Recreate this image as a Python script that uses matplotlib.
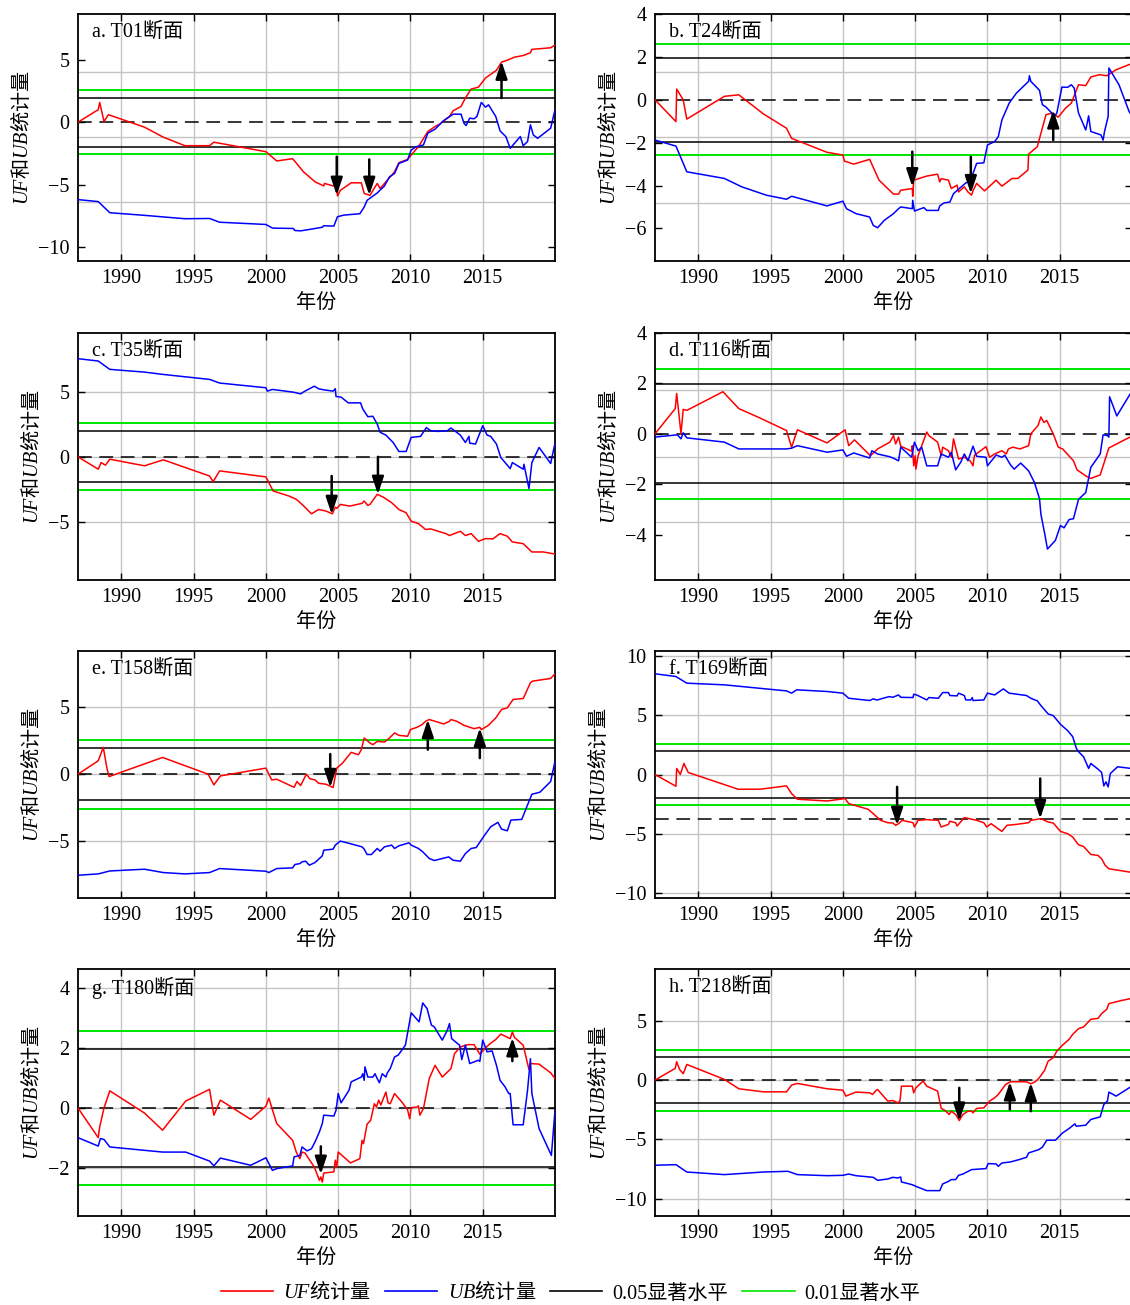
import matplotlib

matplotlib.use("Agg")
import matplotlib.pyplot as plt  # noqa: E402
from matplotlib.lines import Line2D  # noqa: E402

plt.rcParams["font.family"] = ["Liberation Serif", "Noto Sans CJK SC"]
plt.rcParams["mathtext.fontset"] = "custom"
plt.rcParams["mathtext.it"] = "Liberation Serif:italic"
plt.rcParams["mathtext.rm"] = "Noto Sans CJK SC"
plt.rcParams["axes.unicode_minus"] = True

# ---- data: (year, statistic) ----
a_uf = [(1987.0, 0.0), (1988.4, 1.0), (1988.5, 1.58), (1988.8, 0.05), (1989.1, 0.6), (1991.6, -0.4),
        (1992.9, -1.2), (1994.4, -1.88), (1996.1, -1.88), (1996.4, -1.6), (2000.0, -2.36), (2000.75, -3.1),
        (2001.85, -2.92), (2002.6, -3.97), (2003.4, -4.77), (2004.0, -5.1), (2004.05, -4.9), (2004.9, -5.17),
        (2004.95, -5.9), (2005.15, -5.45), (2005.9, -4.85), (2006.6, -4.85), (2006.8, -5.7), (2007.2, -5.85),
        (2007.7, -4.9), (2007.9, -5.3), (2008.3, -4.77), (2008.9, -3.97), (2009.2, -3.24), (2009.8, -2.98),
        (2010.05, -2.63), (2010.55, -1.96), (2011.2, -0.75), (2011.7, -0.35), (2012.05, -0.13), (2012.7, 0.46),
        (2012.95, 0.91), (2013.5, 1.26), (2013.8, 1.93), (2014.2, 2.65), (2014.7, 2.8), (2015.2, 3.54),
        (2015.95, 4.15), (2016.3, 4.8), (2016.7, 4.96), (2017.2, 5.2), (2017.8, 5.33), (2018.3, 5.55),
        (2018.4, 5.82), (2019.7, 5.95), (2020.0, 6.17)]
a_ub = [(1987.0, -6.19), (1988.4, -6.35), (1989.2, -7.24), (1991.6, -7.45), (1994.4, -7.72), (1996.1, -7.7),
        (1996.8, -8.0), (2000.0, -8.18), (2000.45, -8.47), (2001.9, -8.5), (2002.0, -8.66), (2002.4, -8.69),
        (2003.15, -8.55), (2003.9, -8.4), (2004.0, -8.28), (2004.7, -8.31), (2004.95, -7.56), (2005.4, -7.43),
        (2006.5, -7.32), (2006.8, -6.78), (2007.0, -6.25), (2007.7, -5.66), (2008.2, -5.1), (2008.55, -4.37),
        (2008.9, -4.1), (2009.2, -3.3), (2009.8, -3.03), (2010.05, -2.23), (2010.4, -1.96), (2010.9, -1.82),
        (2011.2, -0.88), (2011.7, -0.56), (2012.3, 0.13), (2012.95, 0.64), (2013.5, 0.64), (2013.7, -0.08),
        (2013.85, -0.27), (2014.1, 0.32), (2014.4, 0.27), (2014.6, 0.46), (2014.9, 1.58), (2015.2, 1.2),
        (2015.4, 1.39), (2015.9, 0.46), (2016.2, -0.7), (2016.6, -1.15), (2016.9, -2.09), (2017.6, -1.15),
        (2017.8, -1.88), (2018.1, -1.55), (2018.3, -0.21), (2018.5, -1.02), (2018.8, -1.29), (2019.7, -0.48),
        (2020.0, 0.99)]
a_arrows = [(2004.9, -2.76, -5.85), (2007.15, -2.98, -5.85), (2016.3, 1.93, 4.88)]

b_uf = [(1987.0, 0.0), (1988.45, -1.02), (1988.5, 0.5), (1988.95, 0.0), (1989.2, -0.9), (1991.8, 0.16),
        (1992.8, 0.23), (1994.5, -0.66), (1996.1, -1.33), (1996.45, -1.8), (1998.9, -2.45), (2000.0, -2.58),
        (2000.1, -2.86), (2000.75, -3.0), (2001.85, -2.78), (2002.5, -3.75), (2003.5, -4.4), (2003.85, -4.4),
        (2004.0, -4.22), (2004.8, -4.14), (2004.83, -4.5), (2004.9, -3.75), (2005.8, -3.56), (2006.55, -3.47),
        (2006.7, -3.83), (2006.8, -3.68), (2007.3, -3.75), (2007.5, -4.14), (2007.9, -3.98), (2008.0, -4.3),
        (2008.4, -4.06), (2008.65, -4.3), (2008.9, -4.45), (2009.0, -4.25), (2009.25, -3.9), (2009.8, -4.25),
        (2010.6, -3.75), (2011.0, -4.03), (2011.7, -3.67), (2012.1, -3.67), (2012.8, -3.28), (2012.85, -2.53),
        (2013.45, -2.19), (2013.7, -1.56), (2014.05, -0.7), (2014.45, -0.62), (2014.9, -0.81), (2015.4, -0.39),
        (2015.8, -0.16), (2016.3, 0.7), (2016.8, 0.66), (2017.15, 1.06), (2017.75, 1.17), (2018.25, 1.12),
        (2018.9, 1.4), (2019.8, 1.64), (2020.0, 1.67)]
b_ub = [(1987.0, -1.88), (1988.45, -2.16), (1989.2, -3.36), (1991.8, -3.67), (1993.0, -4.06), (1994.7, -4.45),
        (1996.1, -4.64), (1996.45, -4.5), (1998.9, -4.95), (2000.0, -4.73), (2000.25, -5.08), (2000.9, -5.31),
        (2001.85, -5.47), (2002.1, -5.86), (2002.4, -5.97), (2002.85, -5.63), (2003.5, -5.31), (2003.85, -5.08),
        (2004.0, -5.0), (2004.8, -5.08), (2004.83, -4.69), (2004.95, -5.19), (2005.6, -5.03), (2005.8, -5.16),
        (2006.6, -5.16), (2006.7, -4.95), (2007.0, -4.81), (2007.4, -4.77), (2007.65, -4.38), (2008.5, -3.88),
        (2008.9, -3.75), (2009.0, -3.44), (2009.25, -2.97), (2009.75, -2.94), (2010.0, -2.11), (2010.5, -1.95),
        (2010.75, -1.72), (2011.0, -0.94), (2011.5, -0.16), (2012.0, 0.31), (2012.85, 0.86), (2012.9, 1.12),
        (2013.0, 0.86), (2013.6, 0.44), (2013.8, -0.23), (2014.05, -0.34), (2014.45, -0.62), (2014.55, -0.86),
        (2014.8, -0.62), (2015.15, 0.59), (2015.55, 0.58), (2015.8, 0.7), (2016.0, 0.55), (2016.3, -0.62),
        (2016.8, -1.41), (2016.9, -1.09), (2017.0, -0.75), (2017.15, -1.48), (2017.85, -1.64), (2018.0, -1.88),
        (2018.1, -1.48), (2018.35, -0.78), (2018.4, 1.48), (2019.1, 0.7), (2019.8, -0.55), (2020.0, -0.75)]
b_arrows = [(2004.8, -2.42, -4.06), (2008.85, -2.66, -4.38), (2014.55, -1.88, -0.47)]

c_uf = [(1987.0, 0.0), (1988.4, -0.95), (1988.6, -0.44), (1988.9, -0.64), (1989.2, -0.18), (1991.6, -0.69),
        (1992.9, -0.23), (1996.1, -1.47), (1996.35, -1.9), (1996.8, -1.08), (2000.0, -1.54), (2000.5, -2.62),
        (2001.6, -3.01), (2002.1, -3.26), (2002.55, -3.7), (2003.15, -4.37), (2003.65, -4.04), (2004.15, -4.16),
        (2004.6, -4.37), (2004.8, -3.86), (2004.9, -3.96), (2005.15, -3.65), (2005.8, -3.78), (2006.65, -3.57),
        (2006.8, -3.39), (2007.05, -3.73), (2007.2, -3.65), (2007.7, -2.88), (2008.1, -3.08), (2008.7, -3.52),
        (2009.2, -4.04), (2009.7, -4.29), (2010.05, -4.94), (2010.55, -5.12), (2011.05, -5.58), (2011.4, -5.53),
        (2012.45, -5.89), (2012.7, -6.04), (2013.45, -5.71), (2013.8, -6.04), (2014.2, -5.89), (2014.7, -6.48),
        (2015.2, -6.27), (2015.7, -6.3), (2016.2, -5.89), (2016.7, -6.09), (2017.05, -6.53), (2017.8, -6.66),
        (2018.4, -7.3), (2019.2, -7.3), (2020.0, -7.46)]
c_ub = [(1987.0, 7.53), (1988.4, 7.35), (1989.2, 6.71), (1991.6, 6.5), (1992.9, 6.32), (1996.1, 5.94),
        (1996.8, 5.66), (2000.0, 5.3), (2000.1, 5.04), (2000.45, 5.17), (2001.9, 4.96), (2002.4, 4.83),
        (2002.65, 5.01), (2003.35, 5.42), (2003.65, 5.22), (2004.0, 5.14), (2004.65, 5.04), (2004.8, 5.22),
        (2004.85, 4.63), (2005.2, 4.58), (2005.7, 4.14), (2006.55, 4.14), (2006.7, 3.68), (2007.05, 3.08),
        (2007.4, 3.11), (2007.7, 2.52), (2007.9, 1.88), (2008.3, 1.67), (2008.8, 1.1), (2009.2, 0.41),
        (2009.7, 0.41), (2010.05, 1.49), (2010.7, 1.57), (2011.1, 2.24), (2011.4, 2.0), (2011.9, 1.95),
        (2012.55, 2.0), (2012.8, 2.21), (2013.45, 1.67), (2013.8, 1.1), (2014.05, 1.57), (2014.1, 1.05),
        (2014.5, 0.98), (2015.0, 2.39), (2015.3, 1.67), (2015.55, 1.57), (2015.95, 0.98), (2016.25, -0.05),
        (2016.9, -0.9), (2017.05, -0.44), (2017.8, -0.95), (2017.85, -0.57), (2018.2, -2.44), (2018.4, -0.44),
        (2018.9, 0.72), (2019.7, -0.51), (2020.0, 1.05)]
c_arrows = [(2004.55, -1.47, -4.42), (2007.75, 0.0, -2.88)]

d_uf = [(1987.0, 0.0), (1988.4, 1.0), (1988.5, 1.6), (1988.8, 0.0), (1988.95, 0.97), (1989.2, 0.93),
        (1991.7, 1.67), (1992.8, 1.0), (1994.25, 0.63), (1996.1, 0.13), (1996.45, -0.53), (1996.85, 0.16),
        (1998.9, -0.36), (2000.15, 0.16), (2000.4, -0.47), (2000.8, -0.24), (2001.9, -0.87), (2002.4, -0.6),
        (2003.25, -0.33), (2003.5, -0.07), (2003.65, -0.4), (2003.85, -0.13), (2004.0, -0.49), (2004.75, -0.69),
        (2004.8, -0.47), (2004.9, -1.27), (2005.0, -0.87), (2005.05, -1.4), (2005.2, -0.87), (2005.8, 0.07),
        (2005.95, -0.07), (2006.55, -0.33), (2006.8, -0.87), (2006.9, -0.53), (2007.3, -0.67), (2007.5, -0.93),
        (2007.65, -0.2), (2008.0, -1.0), (2008.4, -0.93), (2008.8, -1.07), (2009.0, -1.27), (2009.1, -0.85),
        (2009.9, -0.51), (2010.15, -0.93), (2010.5, -0.8), (2011.0, -0.67), (2011.3, -0.8), (2011.45, -0.6),
        (2011.75, -0.53), (2012.25, -0.6), (2012.85, -0.47), (2013.0, 0.0), (2013.5, 0.33), (2013.7, 0.67),
        (2013.9, 0.45), (2014.1, 0.53), (2014.55, 0.0), (2014.9, -0.53), (2015.2, -0.6), (2015.95, -1.07),
        (2016.2, -1.43), (2016.8, -1.67), (2017.15, -1.77), (2017.8, -1.63), (2018.4, -0.56), (2020.0, -0.09)]
d_ub = [(1987.0, -0.13), (1988.55, -0.04), (1988.8, -0.2), (1988.95, 0.04), (1989.2, -0.16), (1991.8, -0.33),
        (1992.8, -0.6), (1996.1, -0.6), (1996.45, -0.57), (1996.85, -0.47), (1998.9, -0.73), (2000.0, -0.64),
        (2000.25, -0.89), (2000.75, -0.76), (2001.85, -0.96), (2002.0, -0.67), (2002.4, -0.8), (2003.25, -0.91),
        (2003.5, -0.97), (2003.85, -1.07), (2004.0, -0.53), (2004.75, -0.93), (2004.95, -0.33), (2005.2, -0.67),
        (2005.45, -0.53), (2005.8, -1.27), (2006.55, -1.27), (2006.8, -0.8), (2007.3, -0.93), (2007.5, -0.73),
        (2007.8, -1.43), (2008.15, -1.13), (2008.4, -0.8), (2008.65, -1.07), (2009.0, -0.49), (2009.25, -0.89),
        (2009.9, -0.93), (2010.0, -1.27), (2010.6, -0.84), (2011.0, -0.93), (2011.2, -0.85), (2011.6, -1.24),
        (2011.85, -1.4), (2012.3, -1.16), (2012.85, -1.47), (2013.25, -1.93), (2013.6, -2.57), (2013.7, -3.2),
        (2013.95, -3.93), (2014.15, -4.57), (2014.7, -4.23), (2015.05, -3.64), (2015.3, -3.73), (2015.65, -3.4),
        (2015.95, -3.37), (2016.3, -2.6), (2016.8, -2.33), (2017.15, -1.33), (2017.8, -0.8), (2018.0, -0.04),
        (2018.3, -0.07), (2018.4, -0.13), (2018.45, 1.47), (2018.95, 0.71), (2020.0, 1.7)]
d_arrows = []

e_uf = [(1987.0, 0.0), (1988.4, 1.0), (1988.75, 2.0), (1989.0, 0.45), (1989.15, -0.18), (1992.85, 1.25),
        (1996.0, 0.0), (1996.4, -0.8), (1996.85, -0.13), (2000.0, 0.45), (2000.4, -0.43), (2000.75, -0.38),
        (2001.95, -0.98), (2002.15, -0.55), (2002.4, -0.85), (2002.8, 0.0), (2003.05, -0.35), (2003.4, -0.43),
        (2003.65, -0.68), (2004.15, -0.75), (2004.65, -1.0), (2004.9, 0.45), (2005.3, 0.83), (2005.9, 1.63),
        (2006.4, 1.45), (2006.6, 1.83), (2006.8, 2.7), (2007.2, 2.33), (2007.4, 2.2), (2007.7, 2.45),
        (2008.2, 2.4), (2008.55, 2.7), (2008.9, 3.08), (2009.2, 2.9), (2009.8, 2.83), (2010.0, 3.33),
        (2010.45, 3.5), (2010.8, 3.7), (2011.05, 3.95), (2011.3, 4.08), (2011.7, 3.95), (2012.3, 3.75),
        (2012.7, 3.95), (2012.8, 4.08), (2013.2, 3.95), (2013.7, 3.65), (2014.4, 3.4), (2014.8, 3.5),
        (2014.9, 3.33), (2015.4, 3.65), (2015.9, 4.2), (2016.3, 4.83), (2016.7, 4.95), (2017.1, 5.58),
        (2017.8, 5.65), (2018.3, 6.83), (2018.45, 6.95), (2019.7, 7.15), (2020.0, 7.5)]
e_ub = [(1987.0, -7.55), (1988.4, -7.45), (1989.2, -7.23), (1991.6, -7.1), (1992.9, -7.35), (1994.4, -7.45),
        (1996.1, -7.35), (1996.8, -7.05), (2000.0, -7.25), (2000.2, -7.35), (2000.75, -7.05), (2001.85, -7.0),
        (2002.0, -6.75), (2002.35, -6.68), (2002.5, -6.55), (2002.75, -6.5), (2003.0, -6.8), (2003.4, -6.6),
        (2003.9, -6.1), (2004.0, -5.68), (2004.65, -5.6), (2004.8, -5.3), (2005.15, -5.0), (2005.8, -5.18),
        (2006.65, -5.43), (2006.8, -5.6), (2007.0, -6.0), (2007.3, -6.0), (2007.7, -5.55), (2007.9, -5.75),
        (2008.2, -5.43), (2008.7, -5.3), (2008.9, -5.55), (2009.2, -5.35), (2009.9, -5.13), (2010.05, -5.3),
        (2010.55, -5.55), (2010.85, -5.8), (2011.3, -6.3), (2011.65, -6.45), (2012.65, -6.18), (2012.95, -6.43),
        (2013.45, -6.5), (2013.8, -5.93), (2014.2, -5.55), (2014.55, -5.48), (2015.05, -4.68), (2015.55, -3.93),
        (2016.05, -3.6), (2016.3, -4.1), (2016.7, -4.23), (2016.95, -3.43), (2017.7, -3.38), (2018.1, -2.3),
        (2018.4, -1.5), (2018.95, -1.35), (2019.7, -0.55), (2020.0, 0.95)]
e_arrows = [(2004.45, 1.5, -1.0), (2011.2, 1.83, 4.08), (2014.8, 1.2, 3.45)]

f_uf = [(1987.0, 0.0), (1988.45, -0.99), (1988.5, 0.51), (1988.75, 0.0), (1989.0, 0.93), (1989.3, 0.17),
        (1992.75, -1.24), (1994.25, -1.24), (1996.1, -0.96), (1996.45, -1.61), (1996.85, -2.08), (1998.9, -2.23),
        (2000.15, -2.03), (2000.4, -2.45), (2001.75, -2.93), (2002.1, -3.3), (2002.6, -3.86), (2003.1, -4.06),
        (2003.45, -4.08), (2003.65, -4.28), (2003.85, -4.14), (2004.1, -3.86), (2004.85, -4.06), (2004.95, -4.42),
        (2005.2, -3.86), (2005.8, -3.8), (2006.6, -3.86), (2006.8, -4.42), (2007.3, -4.2), (2007.4, -3.94),
        (2007.8, -4.06), (2007.9, -4.34), (2008.4, -3.63), (2008.75, -3.72), (2009.25, -3.86), (2009.75, -4.06),
        (2009.95, -4.42), (2010.25, -4.14), (2011.0, -4.79), (2011.35, -4.28), (2012.0, -4.2), (2012.85, -4.06),
        (2013.0, -3.86), (2013.7, -3.72), (2014.2, -4.0), (2014.55, -4.08), (2015.05, -4.79), (2015.55, -4.99),
        (2015.9, -5.27), (2016.3, -5.92), (2016.65, -6.06), (2017.15, -6.73), (2017.65, -6.82), (2017.9, -7.1),
        (2018.15, -7.66), (2018.4, -7.94), (2019.15, -8.08), (2020.0, -8.25)]
f_ub = [(1987.0, 8.48), (1988.45, 8.25), (1989.2, 7.69), (1991.8, 7.55), (1996.1, 7.04), (1996.45, 6.85),
        (1996.8, 7.13), (1998.9, 6.99), (2000.0, 6.85), (2000.4, 6.42), (2001.85, 6.23), (2002.1, 6.37),
        (2002.35, 6.27), (2003.2, 6.56), (2003.45, 6.5), (2003.85, 6.7), (2004.0, 6.5), (2004.85, 6.48),
        (2004.9, 6.76), (2005.1, 6.7), (2005.8, 6.28), (2005.95, 6.48), (2006.6, 6.42), (2006.9, 6.9),
        (2007.3, 6.9), (2007.4, 6.65), (2007.9, 6.62), (2008.0, 6.85), (2008.4, 6.65), (2008.5, 6.28),
        (2008.85, 6.28), (2008.95, 6.48), (2009.0, 6.23), (2009.75, 6.28), (2010.0, 6.85), (2010.5, 6.7),
        (2011.1, 7.21), (2011.5, 6.85), (2012.7, 6.65), (2013.0, 6.42), (2013.45, 6.2), (2013.7, 5.8),
        (2014.2, 5.1), (2014.55, 4.96), (2015.05, 4.23), (2015.55, 3.69), (2015.9, 3.18), (2016.15, 2.2),
        (2016.3, 1.92), (2016.65, 1.49), (2017.0, 0.51), (2017.15, 0.93), (2017.65, 0.45), (2017.9, 0.17),
        (2018.05, -0.96), (2018.2, -0.62), (2018.35, -1.04), (2018.5, 0.08), (2019.0, 0.65), (2020.0, 0.5)]
f_arrows = [(2003.75, -1.04, -4.28), (2013.65, -0.34, -3.72)]

g_uf = [(1987.0, 0.0), (1988.4, -0.99), (1988.5, -0.63), (1988.8, 0.0), (1989.2, 0.57), (1991.6, -0.17),
        (1992.85, -0.74), (1994.45, 0.23), (1996.1, 0.62), (1996.4, -0.24), (1996.85, 0.26), (1998.95, -0.38),
        (2000.0, 0.06), (2000.2, 0.33), (2000.75, -0.52), (2001.85, -1.08), (2002.1, -1.47), (2002.35, -1.69),
        (2002.5, -1.47), (2002.7, -1.5), (2003.35, -1.97), (2003.7, -2.41), (2003.8, -2.3), (2003.9, -2.47),
        (2004.0, -2.17), (2004.7, -2.13), (2004.8, -1.74), (2004.9, -1.97), (2005.0, -1.47), (2005.85, -1.83),
        (2006.5, -1.69), (2006.65, -1.08), (2006.75, -1.19), (2007.0, -0.54), (2007.25, -0.41), (2007.5, 0.14),
        (2007.65, 0.03), (2007.8, 0.26), (2007.95, 0.1), (2008.3, 0.53), (2008.45, 0.17), (2008.6, 0.14),
        (2008.8, 0.37), (2008.9, 0.48), (2009.4, 0.2), (2009.8, -0.06), (2009.95, -0.36), (2010.05, 0.01),
        (2010.45, 0.03), (2010.55, 0.07), (2010.65, -0.24), (2010.9, -0.02), (2011.3, 0.98), (2011.7, 1.42),
        (2012.2, 1.03), (2012.8, 1.31), (2013.05, 1.81), (2013.45, 2.03), (2013.8, 2.09), (2014.0, 2.11),
        (2014.4, 2.11), (2014.8, 1.79), (2015.15, 1.98), (2015.5, 2.14), (2015.9, 2.28), (2016.25, 2.46),
        (2016.65, 2.37), (2016.9, 2.31), (2017.05, 2.53), (2017.2, 2.35), (2017.8, 2.09), (2018.2, 1.28),
        (2018.3, 1.48), (2018.9, 1.46), (2019.7, 1.17), (2020.0, 0.98)]
g_ub = [(1987.0, -0.99), (1988.4, -1.27), (1988.55, -1.02), (1988.8, -1.05), (1989.2, -1.3), (1992.85, -1.47),
        (1994.45, -1.47), (1996.1, -1.77), (1996.4, -1.93), (1996.85, -1.67), (1998.95, -1.91), (2000.0, -1.66),
        (2000.45, -2.08), (2000.75, -2.02), (2001.85, -1.93), (2001.95, -1.63), (2002.35, -1.58), (2002.5, -1.3),
        (2002.85, -1.43), (2003.15, -1.36), (2003.4, -1.13), (2003.7, -0.8), (2003.9, -0.52), (2004.0, -0.24),
        (2004.7, -0.27), (2004.85, -0.08), (2005.0, 0.48), (2005.2, 0.17), (2005.75, 0.59), (2005.9, 0.87),
        (2006.6, 1.03), (2006.7, 1.14), (2006.8, 0.92), (2006.85, 1.37), (2007.05, 1.03), (2007.4, 1.03),
        (2007.55, 1.14), (2007.65, 1.03), (2007.85, 0.84), (2008.05, 1.14), (2008.3, 1.03), (2008.4, 1.17),
        (2008.6, 1.31), (2008.9, 1.7), (2009.15, 1.76), (2009.65, 2.09), (2010.05, 3.17), (2010.6, 2.87),
        (2010.85, 3.5), (2011.15, 3.31), (2011.45, 2.76), (2011.65, 2.7), (2012.2, 2.26), (2012.55, 2.59),
        (2012.7, 2.81), (2012.85, 2.31), (2013.4, 2.09), (2013.55, 1.61), (2013.8, 2.09), (2014.1, 1.48),
        (2014.7, 1.59), (2014.8, 1.55), (2015.0, 2.26), (2015.3, 1.87), (2015.65, 1.9), (2015.95, 1.42),
        (2016.2, 0.92), (2016.55, 0.7), (2016.8, 0.48), (2016.9, 0.48), (2017.1, -0.56), (2017.8, -0.56),
        (2018.1, 0.59), (2018.3, 1.64), (2018.4, 0.48), (2018.9, -0.69), (2019.75, -1.58), (2020.0, -0.08)]
g_arrows = [(2003.8, -1.28, -2.21), (2017.05, 1.56, 2.34)]

h_uf = [(1987.0, 0.0), (1988.4, 0.99), (1988.5, 1.55), (1988.7, 0.9), (1988.95, 0.54), (1989.2, 1.32),
        (1991.8, 0.06), (1992.8, -0.73), (1994.5, -0.99), (1996.1, -0.99), (1996.45, -0.42), (1996.85, -0.28),
        (1998.9, -0.73), (2000.0, -0.85), (2000.2, -1.35), (2000.9, -1.01), (2001.85, -1.07), (2002.05, -1.21),
        (2002.3, -0.87), (2002.4, -0.79), (2003.1, -1.77), (2003.45, -1.72), (2003.8, -1.92), (2003.95, -1.75),
        (2004.05, -0.51), (2004.8, -0.51), (2004.9, -1.07), (2005.05, -0.65), (2005.55, -0.08), (2005.8, -0.51),
        (2006.55, -0.93), (2006.8, -2.39), (2007.05, -2.54), (2007.35, -2.9), (2007.5, -2.62), (2007.8, -2.9),
        (2008.05, -3.41), (2008.3, -2.9), (2008.65, -2.62), (2008.9, -2.62), (2009.0, -2.76), (2009.25, -2.39),
        (2009.75, -2.34), (2010.15, -1.77), (2010.5, -1.49), (2010.75, -1.21), (2011.25, -0.37), (2011.6, -0.14),
        (2012.7, -0.14), (2013.0, -0.31), (2013.3, -0.14), (2013.55, 0.14), (2013.95, 0.82), (2014.2, 1.6),
        (2014.55, 1.89), (2014.8, 2.45), (2015.2, 2.96), (2015.65, 3.44), (2015.9, 3.86), (2016.3, 4.34),
        (2016.65, 4.48), (2017.15, 5.13), (2017.65, 5.21), (2017.9, 5.61), (2018.25, 5.97), (2018.4, 6.45),
        (2019.15, 6.68), (2020.0, 6.9)]
h_ub = [(1987.0, -7.18), (1988.45, -7.13), (1989.2, -7.75), (1991.8, -7.97), (1994.5, -7.75), (1996.2, -7.69),
        (1996.85, -7.97), (1998.9, -8.06), (2000.0, -8.03), (2000.4, -7.92), (2000.9, -8.06), (2002.1, -8.2),
        (2002.4, -8.45), (2003.1, -8.34), (2003.45, -8.2), (2003.8, -8.25), (2004.0, -8.17), (2004.05, -8.59),
        (2004.8, -8.82), (2005.05, -8.96), (2005.8, -9.32), (2006.7, -9.32), (2006.9, -8.76), (2007.3, -8.54),
        (2007.5, -8.39), (2007.8, -8.39), (2008.0, -8.03), (2008.3, -7.92), (2008.9, -7.55), (2009.9, -7.46),
        (2010.05, -7.04), (2010.6, -7.07), (2010.75, -7.27), (2011.0, -6.99), (2011.6, -6.9), (2012.2, -6.7),
        (2012.7, -6.51), (2012.85, -6.14), (2013.2, -6.0), (2013.55, -5.86), (2013.8, -5.66), (2014.1, -5.07),
        (2014.7, -5.07), (2015.2, -4.45), (2015.65, -4.08), (2016.05, -3.69), (2016.15, -3.89), (2016.8, -3.8),
        (2017.15, -3.32), (2017.8, -3.1), (2018.05, -2.06), (2018.3, -1.77), (2018.4, -1.01), (2018.9, -1.35),
        (2020.0, -0.5)]
h_arrows = [(2008.05, -0.65, -3.46), (2011.55, -2.48, -0.14), (2013.0, -2.62, -0.22)]

titles = ["a. T01断面", "b. T24断面", "c. T35断面", "d. T116断面",
          "e. T158断面", "f. T169断面", "g. T180断面", "h. T218断面"]
year_ticks = [1990, 1995, 2000, 2005, 2010, 2015]
sig_05 = 1.96
sig_01 = 2.58

# ---- per-panel axis setup ----
panels = [
    dict(uf=a_uf, ub=a_ub, arrows=a_arrows, ylim=(-11.1, 8.65), yticks=[-10, -5, 0, 5],
         hgrid=[3.99, -1.2, -6.39], zero=0.0),
    dict(uf=b_uf, ub=b_ub, arrows=b_arrows, ylim=(-7.52, 4.0), yticks=[-6, -4, -2, 0, 2, 4],
         hgrid=[1.28, -1.75, -4.8], zero=0.0),
    dict(uf=c_uf, ub=c_ub, arrows=c_arrows, ylim=(-9.45, 9.5), yticks=[-5, 0, 5],
         hgrid=[5, 0, -5], zero=0.0),
    dict(uf=d_uf, ub=d_ub, arrows=d_arrows, ylim=(-5.8, 4.0), yticks=[-4, -2, 0, 2, 4],
         hgrid=[1.73, -0.91, -3.51], zero=0.0),
    dict(uf=e_uf, ub=e_ub, arrows=e_arrows, ylim=(-9.25, 9.2), yticks=[-5, 0, 5],
         hgrid=[5, 0, -5], zero=0.0),
    dict(uf=f_uf, ub=f_ub, arrows=f_arrows, ylim=(-10.4, 10.4), yticks=[-10, -5, 0, 5, 10],
         hgrid=[10, 5, 0, -5, -10], zero=-3.72),
    dict(uf=g_uf, ub=g_ub, arrows=g_arrows, ylim=(-3.6, 4.63), yticks=[-2, 0, 2, 4],
         hgrid=[4, 2, 0, -2], zero=0.0),
    dict(uf=h_uf, ub=h_ub, arrows=h_arrows, ylim=(-11.46, 9.37), yticks=[-10, -5, 0, 5],
         hgrid=[5, 0, -5, -10], zero=0.0),
]

RED = "#ff0000"
BLUE = "#0000ff"
GREEN = "#00e600"
GRID = "#c4c4c4"
FS = 14.5

W, H = 1130, 1305
fig = plt.figure(figsize=(W / 100, H / 100), dpi=100)

col_left = [78, 655]
ax_w = 477
row_bottom = [261, 580, 898, 1216]
ax_h = 247

for i, p in enumerate(panels):
    r, c = divmod(i, 2)
    ax = fig.add_axes([col_left[c] / W, 1 - row_bottom[r] / H, ax_w / W, ax_h / H])

    for gy in p["hgrid"]:
        ax.axhline(gy, color=GRID, lw=1.0, zorder=0)
    for gx in year_ticks:
        ax.axvline(gx, color=GRID, lw=1.0, zorder=0)

    ax.axhline(sig_01, color=GREEN, lw=1.4, zorder=1)
    ax.axhline(-sig_01, color=GREEN, lw=1.4, zorder=1)
    ax.axhline(sig_05, color="k", lw=1.1, zorder=1)
    ax.axhline(-sig_05, color="k", lw=1.1, zorder=1)
    ax.axhline(p["zero"], color="k", lw=1.1, ls=(0, (9, 5)), zorder=1)

    ux, uy = zip(*p["uf"])
    bx, by = zip(*p["ub"])
    ax.plot(ux, uy, color=RED, lw=1.1, zorder=3)
    ax.plot(bx, by, color=BLUE, lw=1.1, zorder=3)

    for yr, y0, y1 in p["arrows"]:
        ax.annotate("", xy=(yr, y1), xytext=(yr, y0),
                    arrowprops=dict(arrowstyle="-|>,head_length=0.75,head_width=0.25",
                                    color="k", lw=1.8, mutation_scale=14,
                                    shrinkA=0, shrinkB=0), zorder=5)

    ax.set_xlim(1987, 2020)
    ax.set_ylim(*p["ylim"])
    ax.set_xticks(year_ticks)
    ax.set_yticks(p["yticks"])
    ax.tick_params(direction="in", top=True, right=True, length=5, width=1.0,
                   labelsize=FS, pad=6)
    for s in ax.spines.values():
        s.set_linewidth(1.3)
    ax.set_xlabel("年份", fontsize=FS, labelpad=4)
    ax.set_ylabel(r"$\mathit{UF}\mathrm{和}\mathit{UB}\mathrm{统计量}$", fontsize=FS)
    ax.text(0.03, 0.925, titles[i], transform=ax.transAxes, fontsize=FS,
            ha="left", va="center", zorder=6)

handles = [Line2D([], [], color=RED, lw=1.2), Line2D([], [], color=BLUE, lw=1.2),
           Line2D([], [], color="k", lw=1.2), Line2D([], [], color=GREEN, lw=1.2)]
labels = [r"$\mathit{UF}\mathrm{统计量}$", r"$\mathit{UB}\mathrm{统计量}$", "0.05显著水平", "0.01显著水平"]
fig.legend(handles, labels, loc="center", bbox_to_anchor=(0.505, 1 - 1292 / H), ncol=4,
           frameon=False, fontsize=FS, handlelength=2.6, columnspacing=0.7, handletextpad=0.5)

fig.savefig("out.png", dpi=100)
